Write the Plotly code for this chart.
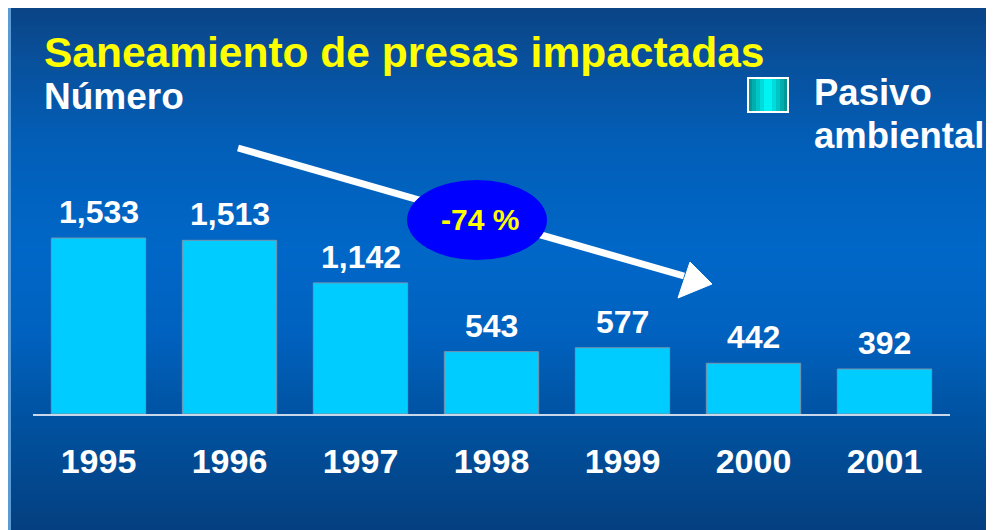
import plotly.graph_objects as go

years = [1995, 1996, 1997, 1998, 1999, 2000, 2001]
values = [1533, 1513, 1142, 543, 577, 442, 392]

title_text = "Saneamiento de presas impactadas"
unit_text = "Número"
legend_lines = ["Pasivo", "ambiental"]
change_text = "-74 %"

W, H = 994, 530
# the page puts the figure 8px in from the window corner
OX, OY = 8, 8
L, R, T, B = 25, 52, 92, 124
FONT = "Liberation Sans, Arial, sans-serif"


def px(x):
    # picture x -> paper x
    return (x - OX - L) / (W - L - R)


def py(y):
    # picture y -> paper y
    return (H - B - (y - OY)) / (H - T - B)


def lerp_color(stops, y):
    for (y0, c0), (y1, c1) in zip(stops, stops[1:]):
        if y0 <= y <= y1:
            f = (y - y0) / (y1 - y0)
            return "rgb(%d,%d,%d)" % tuple(round(a + (b - a) * f) for a, b in zip(c0, c1))
    return "rgb(%d,%d,%d)" % stops[-1][1]


bg_stops = [
    (0, (10, 66, 130)),
    (60, (8, 80, 155)),
    (150, (2, 95, 185)),
    (250, (0, 103, 200)),
    (330, (0, 98, 192)),
    (420, (0, 82, 160)),
    (540, (5, 62, 125)),
]

fig = go.Figure()

fig.add_trace(go.Bar(
    x=years,
    y=values,
    marker=dict(color="#00ccff", line=dict(color="#7a93ad", width=1)),
    hoverinfo="x+y",
))

shapes = []
# thin light border on the left edge
shapes.append(dict(type="rect", xref="paper", yref="paper", layer="below",
                   x0=px(OX), x1=px(OX + W), y0=py(OY + H), y1=py(OY),
                   fillcolor="#5b9bd5", line=dict(width=0)))
# background gradient
step = 6
for y in range(OY, OY + H, step):
    shapes.append(dict(type="rect", xref="paper", yref="paper", layer="below",
                       x0=px(11), x1=px(OX + W), y0=py(y + step), y1=py(y),
                       fillcolor=lerp_color(bg_stops, y + step / 2), line=dict(width=0)))

# legend swatch with horizontal gradient
sw_x0, sw_x1, sw_y0, sw_y1 = 748, 788, 78, 112
n = 10
for i in range(n):
    t = (i + 0.5) / n
    k = 1 - abs(t - 0.5) * 2
    g = round(139 + (255 - 139) * k)
    shapes.append(dict(type="rect", xref="paper", yref="paper",
                       x0=px(sw_x0 + (sw_x1 - sw_x0) * i / n),
                       x1=px(sw_x0 + (sw_x1 - sw_x0) * (i + 1) / n),
                       y0=py(sw_y1), y1=py(sw_y0),
                       fillcolor="rgb(0,%d,%d)" % (g, g), line=dict(width=0)))
shapes.append(dict(type="rect", xref="paper", yref="paper",
                   x0=px(sw_x0), x1=px(sw_x1), y0=py(sw_y1), y1=py(sw_y0),
                   line=dict(color="white", width=2)))

# trend arrow: shaft and head, drawn before the ellipse so it sits beneath it
shapes.append(dict(type="line", xref="paper", yref="paper",
                   x0=px(238), y0=py(148), x1=px(684), y1=py(276),
                   line=dict(color="white", width=7)))
head = [(712, 284), (678, 298), (690, 262)]
shapes.append(dict(type="path", xref="paper", yref="paper",
                   path="M %f %f L %f %f L %f %f Z" % (
                       px(head[0][0]), py(head[0][1]), px(head[1][0]), py(head[1][1]),
                       px(head[2][0]), py(head[2][1])),
                   fillcolor="white", line=dict(color="white", width=1)))

# ellipse for the change label
shapes.append(dict(type="circle", xref="paper", yref="paper",
                   x0=px(407), x1=px(547), y0=py(260), y1=py(180),
                   fillcolor="#0000ff", line=dict(width=0)))

annotations = []
annotations.append(dict(xref="paper", yref="paper", x=px(480), y=py(219),
                        text="<b>%s</b>" % change_text, showarrow=False,
                        font=dict(family=FONT, size=30, color="#ffff00")))

annotations.append(dict(xref="paper", yref="paper", x=px(42), y=py(53),
                        xanchor="left", yanchor="middle", showarrow=False,
                        text="<b>%s</b>" % title_text,
                        font=dict(family=FONT, size=42.5, color="#ffff00")))
annotations.append(dict(xref="paper", yref="paper", x=px(42), y=py(97),
                        xanchor="left", yanchor="middle", showarrow=False,
                        text="<b>%s</b>" % unit_text,
                        font=dict(family=FONT, size=37, color="white")))
annotations.append(dict(xref="paper", yref="paper", x=px(812), y=py(92),
                        xanchor="left", yanchor="middle", showarrow=False,
                        text="<b>%s</b>" % legend_lines[0],
                        font=dict(family=FONT, size=36.5, color="white")))
annotations.append(dict(xref="paper", yref="paper", x=px(812), y=py(135),
                        xanchor="left", yanchor="middle", showarrow=False,
                        text="<b>%s</b>" % legend_lines[1],
                        font=dict(family=FONT, size=36.5, color="white")))

for yr, v in zip(years, values):
    annotations.append(dict(x=yr, y=v, xref="x", yref="y", yanchor="bottom",
                            yshift=6, showarrow=False, text="<b>%s</b>" % f"{v:,}",
                            font=dict(family=FONT, size=32, color="white")))

fig.update_layout(
    width=W,
    height=H,
    margin=dict(l=L, r=R, t=T, b=B),
    paper_bgcolor="#0a4282",
    plot_bgcolor="rgba(0,0,0,0)",
    showlegend=False,
    bargap=0.28,
    shapes=shapes,
    annotations=annotations,
    xaxis=dict(
        tickmode="array", tickvals=years, ticktext=[str(y) for y in years],
        range=[years[0] - 0.5, years[-1] + 0.5],
        showline=True, linecolor="#c8d8ea", linewidth=2,
        showgrid=False, zeroline=False, ticks="", automargin=False,
        tickfont=dict(family=FONT, size=34, color="white", weight="bold"),
        ticklabelstandoff=16,
    ),
    yaxis=dict(range=[0, 2735], visible=False, showgrid=False, zeroline=False),
)

fig.write_html("out.html")
